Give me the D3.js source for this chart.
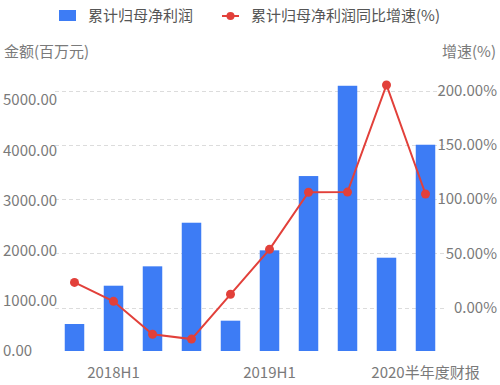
<!DOCTYPE html>
<html>
<head>
<meta charset="utf-8">
<script src="https://cdn.jsdelivr.net/npm/d3@7"></script>
<style>
  body { margin: 0; background: #fff; }
  text { font-family: "Microsoft YaHei", "Noto Sans CJK SC", "Noto Sans", sans-serif; }
</style>
</head>
<body>
<div id="chart"></div>
<script>
        // data
        const categories = ["2018Q1", "2018H1", "2018Q3", "2018年报", "2019Q1", "2019H1", "2019Q3", "2019年报", "2020Q1", "2020半年度财报"];
        const profit = [538, 1301, 1687, 2556, 604, 2006, 3486, 5285, 1859, 4110];
        const growth = [23.3, 5.8, -24.6, -29.0, 12.3, 53.8, 106.4, 106.6, 205.4, 104.8];
        const leftTicks = [0, 1000, 2000, 3000, 4000, 5000];
        const rightTicks = [0, 50, 100, 150, 200];
        const shownLabels = ["2018H1", "2019H1", "2020半年度财报"];

        const width = 500;
        const height = 385;
        const plot = { left: 55, right: 445, top: 80, bottom: 351 };
        const barColor = "#3d7cf5";
        const lineColor = "#e2403a";

        const svg = d3.select("#chart").append("svg")
            .attr("width", width)
            .attr("height", height);

        const x = d3.scaleBand()
            .domain(categories)
            .range([plot.left, plot.right])
            .paddingInner(0.5)
            .paddingOuter(0.25);

        const yLeft = d3.scaleLinear().domain([0, 5400]).range([plot.bottom, plot.top]);
        const yRight = d3.scaleLinear().domain([-40, 210]).range([plot.bottom, plot.top]);

        // dashed grid from the right axis
        svg.append("g")
            .selectAll("line")
            .data(rightTicks)
            .join("line")
            .attr("x1", plot.left)
            .attr("x2", plot.right)
            .attr("y1", d => Math.round(yRight(d)) + 0.5)
            .attr("y2", d => Math.round(yRight(d)) + 0.5)
            .attr("stroke", "#dcdcdc")
            .attr("stroke-dasharray", "4,3");

        // bars
        svg.append("g")
            .selectAll("rect")
            .data(profit)
            .join("rect")
            .attr("x", (d, i) => x(categories[i]))
            .attr("y", d => yLeft(d))
            .attr("width", x.bandwidth())
            .attr("height", d => plot.bottom - yLeft(d))
            .attr("fill", barColor);

        // growth line
        const line = d3.line()
            .x((d, i) => x(categories[i]) + x.bandwidth() / 2)
            .y(d => yRight(d));

        svg.append("path")
            .datum(growth)
            .attr("d", line)
            .attr("fill", "none")
            .attr("stroke", lineColor)
            .attr("stroke-width", 2);

        svg.append("g")
            .selectAll("circle")
            .data(growth)
            .join("circle")
            .attr("cx", (d, i) => x(categories[i]) + x.bandwidth() / 2)
            .attr("cy", d => yRight(d))
            .attr("r", 4.5)
            .attr("fill", lineColor);

        // left axis labels
        svg.append("g")
            .selectAll("text")
            .data(leftTicks)
            .join("text")
            .attr("x", 3)
            .attr("y", d => yLeft(d))
            .attr("dy", "0.35em")
            .attr("font-size", 15)
            .attr("fill", "#7a7a7a")
            .text(d => d3.format(".2f")(d));

        // right axis labels
        svg.append("g")
            .selectAll("text")
            .data(rightTicks)
            .join("text")
            .attr("x", 497)
            .attr("y", d => yRight(d))
            .attr("dy", "0.35em")
            .attr("text-anchor", "end")
            .attr("font-size", 15)
            .attr("fill", "#7a7a7a")
            .text(d => d3.format(".2f")(d) + "%");

        // category labels
        svg.append("g")
            .selectAll("text")
            .data(shownLabels)
            .join("text")
            .attr("x", d => x(d) + x.bandwidth() / 2)
            .attr("y", 373)
            .attr("dy", "0.35em")
            .attr("text-anchor", "middle")
            .attr("font-size", 15)
            .attr("fill", "#7a7a7a")
            .text(d => d);

        // axis titles
        svg.append("text")
            .attr("x", 4)
            .attr("y", 52)
            .attr("dy", "0.35em")
            .attr("font-size", 15)
            .attr("fill", "#7a7a7a")
            .text("金额(百万元)");

        svg.append("text")
            .attr("x", 496)
            .attr("y", 52)
            .attr("dy", "0.35em")
            .attr("text-anchor", "end")
            .attr("font-size", 15)
            .attr("fill", "#7a7a7a")
            .text("增速(%)");

        // legend
        const legend = svg.append("g");
        legend.append("rect")
            .attr("x", 59).attr("y", 10)
            .attr("width", 17).attr("height", 11)
            .attr("fill", barColor);
        legend.append("text")
            .attr("x", 88).attr("y", 16)
            .attr("dy", "0.35em")
            .attr("font-size", 15)
            .attr("fill", "#555")
            .text("累计归母净利润");
        legend.append("line")
            .attr("x1", 222).attr("x2", 239)
            .attr("y1", 16).attr("y2", 16)
            .attr("stroke", lineColor)
            .attr("stroke-width", 2);
        legend.append("circle")
            .attr("cx", 230.5).attr("cy", 16)
            .attr("r", 4)
            .attr("fill", lineColor);
        legend.append("text")
            .attr("x", 251).attr("y", 16)
            .attr("dy", "0.35em")
            .attr("font-size", 15)
            .attr("fill", "#555")
            .text("累计归母净利润同比增速(%)");
</script>
</body>
</html>
